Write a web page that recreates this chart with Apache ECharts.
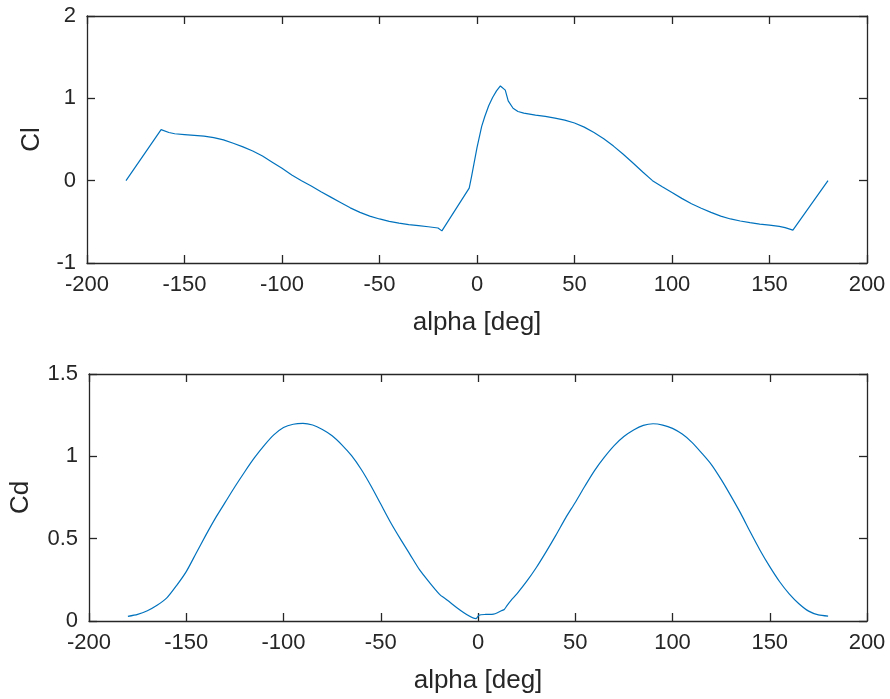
<!DOCTYPE html>
<html>
<head>
<meta charset="utf-8">
<script src="https://cdn.jsdelivr.net/npm/echarts@6/dist/echarts.min.js"></script>
<style>
html,body{margin:0;padding:0;background:#fff;}
#chart{width:890px;height:699px;}
</style>
</head>
<body>
<div id="chart"></div>
<script>
// Cl vs alpha
var clAlpha = [-180,-162,-158,-155,-150,-145,-140,-135,-130,-125,-120,-115,-110,-105,-100,-95,-90,-85,-80,-75,-70,-65,-60,-55,-50,-45,-40,-35,-30,-25,-20,-18,
  -4,-2.8,0,2.4,4,6,8,10,12,13,14.5,16,18.5,21,24,30,35,40,45,50,55,60,65,70,75,80,85,90,95,100,105,110,115,120,125,130,135,140,145,150,155,158,162,180];
var clValues = [0,0.62,0.585,0.57,0.56,0.55,0.54,0.522,0.495,0.455,0.41,0.36,0.30,0.225,0.15,0.07,0,-0.065,-0.135,-0.20,-0.265,-0.33,-0.385,-0.43,-0.465,-0.495,-0.515,-0.533,-0.545,-0.56,-0.575,-0.61,
  -0.09,0.05,0.40,0.66,0.78,0.91,1.01,1.09,1.15,1.14,1.10,0.97,0.88,0.84,0.82,0.795,0.78,0.76,0.735,0.70,0.65,0.585,0.51,0.42,0.32,0.215,0.105,0,-0.075,-0.145,-0.215,-0.28,-0.335,-0.385,-0.43,-0.465,-0.49,-0.51,-0.527,-0.54,-0.555,-0.57,-0.60,0];

// Cd vs alpha
var cdAlpha = [-180,-175,-170,-165,-160,-155,-150,-145,-140,-135,-130,-125,-120,-115,-110,-105,-100,-95,-90,-85,-80,-75,-70,-65,-60,-55,-50,-45,-40,-35,-30,-25,-20,-18,-1,
  0.5,4,8,10,12,13.5,15,17,20,25,30,35,40,45,50,55,60,65,70,75,80,85,90,95,100,105,110,115,120,125,130,135,140,145,150,155,160,165,170,175,180];
var cdValues = [0.028,0.040,0.062,0.095,0.14,0.215,0.30,0.41,0.52,0.625,0.72,0.815,0.905,0.99,1.065,1.13,1.175,1.195,1.2,1.19,1.163,1.125,1.07,1.004,0.92,0.82,0.71,0.60,0.50,0.405,0.31,0.235,0.165,0.145,0.015,
  0.035,0.04,0.042,0.05,0.062,0.07,0.095,0.125,0.165,0.24,0.325,0.42,0.52,0.625,0.72,0.82,0.915,0.995,1.065,1.12,1.16,1.188,1.198,1.19,1.17,1.135,1.085,1.02,0.95,0.86,0.76,0.655,0.54,0.43,0.33,0.24,0.165,0.105,0.06,0.037,0.03];

var xTicks = [-200,-150,-100,-50,0,50,100,150,200];

function pairs(xs, ys){ return xs.map(function(x,i){return [x, ys[i]];}); }

var axisColor = '#262626';
var fontFam = 'Liberation Sans, Arial, sans-serif';
var tickFont = 22;
var nameFont = 26;

function xAx(gridIndex, pos, showLabel, showName){
  return {
    type:'value', gridIndex:gridIndex, position:pos, min:xTicks[0], max:xTicks[xTicks.length-1], interval:50,
    axisLine:{show:true, onZero:false, lineStyle:{color:axisColor, width:1.3}},
    axisTick:{show:true, inside:true, length:8, lineStyle:{color:axisColor, width:1.3}},
    axisLabel:{show:showLabel, color:axisColor, fontSize:tickFont, fontFamily:fontFam, margin:11},
    splitLine:{show:false},
    name: showName ? 'alpha [deg]' : '',
    nameLocation:'middle', nameGap:47,
    nameTextStyle:{color:axisColor, fontSize:nameFont, fontFamily:fontFam}
  };
}
function yAx(gridIndex, pos, min, max, interval, showLabel, name, gap){
  return {
    type:'value', gridIndex:gridIndex, position:pos, min:min, max:max, interval:interval,
    axisLine:{show:true, onZero:false, lineStyle:{color:axisColor, width:1.3}},
    axisTick:{show:true, inside:true, length:8, lineStyle:{color:axisColor, width:1.3}},
    axisLabel:{show:showLabel, color:axisColor, fontSize:tickFont, fontFamily:fontFam, margin:11},
    splitLine:{show:false},
    name: name || '',
    nameLocation:'middle', nameGap:gap || 0,
    nameTextStyle:{color:axisColor, fontSize:nameFont, fontFamily:fontFam}
  };
}

var chart = echarts.init(document.getElementById('chart'), null, {renderer:'canvas'});
chart.setOption({
  animation:false,
  backgroundColor:'#ffffff',
  grid:[
    {left:87, right:23, top:16, height:247},
    {left:87, right:23, top:374, height:247}
  ],
  xAxis:[
    xAx(0,'bottom',true,true),
    xAx(0,'top',false,false),
    xAx(1,'bottom',true,true),
    xAx(1,'top',false,false)
  ],
  yAxis:[
    yAx(0,'left',-1,2,1,true,'Cl',42),
    yAx(0,'right',-1,2,1,false),
    yAx(1,'left',0,1.5,0.5,true,'Cd',55),
    yAx(1,'right',0,1.5,0.5,false)
  ],
  series:[
    {type:'line', xAxisIndex:0, yAxisIndex:0, data:pairs(clAlpha, clValues), showSymbol:false, symbol:'none',
     lineStyle:{color:'#0072BD', width:1.2}},
    {type:'line', xAxisIndex:2, yAxisIndex:2, data:pairs(cdAlpha, cdValues), showSymbol:false, symbol:'none',
     smooth:0.25, lineStyle:{color:'#0072BD', width:1.2}}
  ]
});
</script>
</body>
</html>
